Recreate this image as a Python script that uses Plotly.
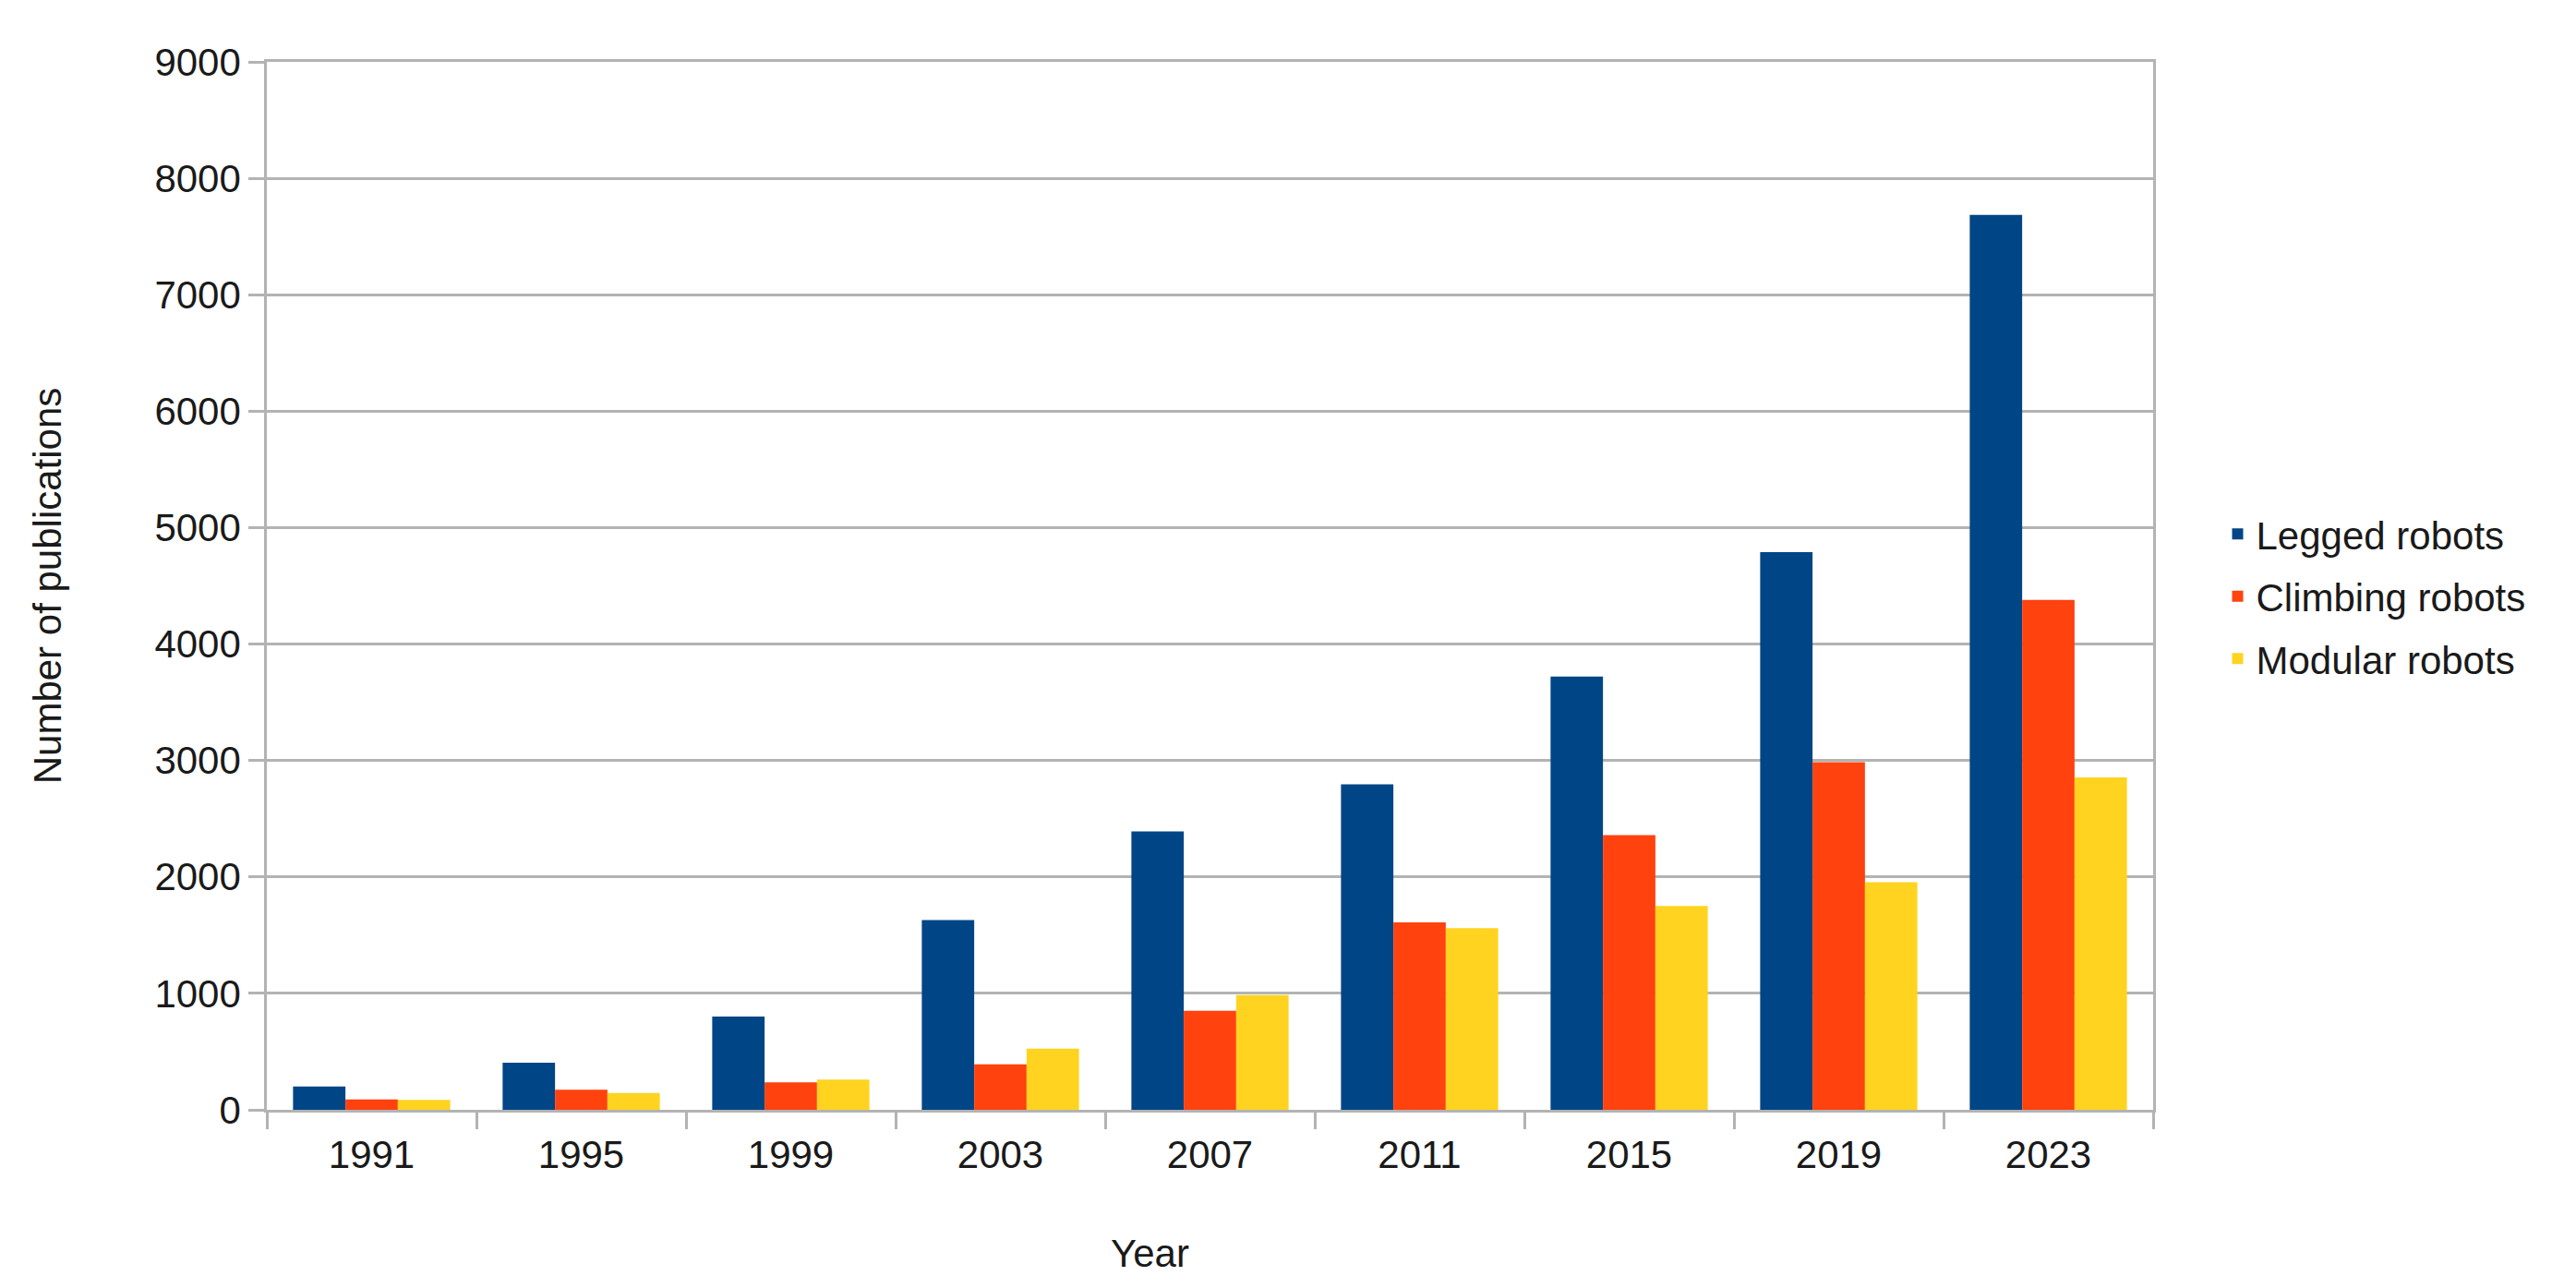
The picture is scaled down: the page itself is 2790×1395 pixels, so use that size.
import plotly.graph_objects as go

years = ["1991", "1995", "1999", "2003", "2007", "2011", "2015", "2019", "2023"]
legged = [200, 405, 800, 1630, 2390, 2795, 3720, 4790, 7685]
climbing = [90, 172, 235, 390, 850, 1610, 2360, 2985, 4380]
modular = [85, 145, 260, 525, 985, 1560, 1750, 1955, 2855]

series_names = ["Legged robots", "Climbing robots", "Modular robots"]
series_colors = ["#004586", "#ff420e", "#ffd320"]
y_ticks = [0, 1000, 2000, 3000, 4000, 5000, 6000, 7000, 8000, 9000]

FONT = "Liberation Sans, Arial, sans-serif"
TEXT = "#1a1a1a"
GRID = "#b3b3b3"

fig = go.Figure()
for name, vals, col in zip(series_names, [legged, climbing, modular], series_colors):
    fig.add_trace(go.Bar(
        x=years, y=vals, name=name,
        marker=dict(color=col, line=dict(width=0)),
        legendgroup=name,
    ))

fig.update_layout(
    width=2790, height=1395,
    paper_bgcolor="white", plot_bgcolor="white",
    margin=dict(l=281, r=466, t=59, b=201, autoexpand=False),
    barmode="group", bargap=0.25, bargroupgap=0,
    font=dict(family=FONT, size=42, color=TEXT),
    legend=dict(
        x=1.035, xanchor="left", y=0.49, yanchor="middle",
        font=dict(family=FONT, size=42, color=TEXT),
        tracegroupgap=10, itemwidth=30,
        bgcolor="rgba(0,0,0,0)",
    ),
    showlegend=True,
    annotations=[dict(
        text="Year", xref="paper", yref="paper",
        x=(1237 - 281) / (2790 - 281 - 466), y=-0.137,
        xanchor="center", yanchor="middle", showarrow=False,
        font=dict(family=FONT, size=42, color=TEXT),
    )],
)

fig.update_xaxes(
    type="category",
    showline=True, linecolor=GRID, linewidth=2.5, mirror=True,
    ticks="outside", tickson="boundaries", ticklen=18, tickwidth=2.5, tickcolor=GRID,
    ticklabelstandoff=10,
    showgrid=False,
    tickfont=dict(family=FONT, size=42, color=TEXT),
)
fig.update_yaxes(
    range=[0, 9000], tickvals=y_ticks, ticktext=[str(v) for v in y_ticks],
    showline=True, linecolor=GRID, linewidth=2.5, mirror=True,
    ticks="outside", ticklen=17, tickwidth=2.5, tickcolor=GRID,
    showgrid=True, gridcolor=GRID, gridwidth=2.5,
    zeroline=False,
    tickfont=dict(family=FONT, size=42, color=TEXT),
    title=dict(text="Number of publications", font=dict(family=FONT, size=42, color=TEXT), standoff=88),
)

fig.write_html("out.html")
